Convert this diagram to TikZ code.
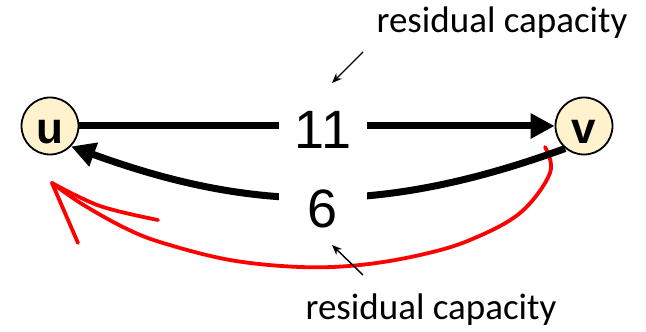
\documentclass[tikz,border=0pt]{standalone}
\usepackage{fontspec}
\setmainfont{Liberation Sans}
\newfontfamily\calib{Carlito}
\usetikzlibrary{arrows.meta}
\definecolor{cream}{RGB}{255,242,204}
\tikzset{
  vertex/.style={circle, draw=black, line width=1.8pt, fill=cream, minimum size=57pt, inner sep=0pt,
    font=\fontsize{44}{44}\selectfont\bfseries, text height=36pt, text depth=0pt},
  flow/.style={line width=7pt, -{Triangle[length=24pt,width=24pt]}},
  lbl/.style={fill=white, inner sep=0pt, minimum width=88pt, minimum height=44pt,
    font=\fontsize{54}{54}\selectfont},
  note/.style={font=\calib\fontsize{37}{37}\selectfont, anchor=base, inner sep=0pt},
  pointer/.style={line width=1.4pt, -{Stealth[length=10pt,width=8pt]}},
  scribble/.style={red, line width=3.8pt, line cap=round, line join=round}
}
\begin{document}
\begin{tikzpicture}[x=1pt,y=1pt]
\useasboundingbox (0,0) rectangle (646,332);
% vertices
\node[vertex] (u) at (50,206) {u};
\node[vertex] (v) at (584,206) {v};
% red freehand scribble
\draw[scribble] plot[smooth, tension=0.6] coordinates {(545,185) (550,159) (520,119) (470,92) (420,77) (360,67) (300,65) (230,72) (163,89) (125,104) (82,128) (52,149)};
\draw[scribble] (78,89) -- (52,149);
\draw[scribble] plot[smooth, tension=0.6] coordinates {(52,149) (100,126) (158,112)};
% edges
\draw[flow] (u) -- (v);
\draw[flow] (v.230) to[out=200, in=-20] (u.-44);
% edge labels
\node[lbl] (c11) at (323,202) {11};
\node[lbl] (c6) at (323,123) {6};
% notes
\node[note] (top) at (502,299) {residual capacity};
\node[note] (bot) at (431,12) {residual capacity};
\coordinate (t1) at (363,280);
\coordinate (t2) at (332,249);
\coordinate (b1) at (363,57);
\coordinate (b2) at (332,87);
\draw[pointer] (t1) -- (t2);
\draw[pointer] (b1) -- (b2);
\end{tikzpicture}
\end{document}
